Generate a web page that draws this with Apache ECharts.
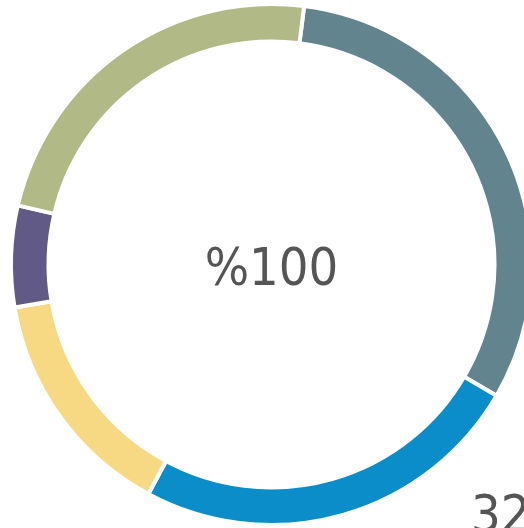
<!DOCTYPE html>
<html>
<head>
<meta charset="utf-8">
<script src="https://cdn.jsdelivr.net/npm/echarts@6/dist/echarts.min.js"></script>
<style>
  html, body { margin: 0; padding: 0; background: #fff; }
  #chart { width: 524px; height: 528px; }
</style>
</head>
<body>
<div id="chart"></div>
<script>
var names = ['A', 'B', 'C', 'D', 'E'];
var values = [32, 24.9, 14.8, 6.4, 23.8];
var colors = ['#62848f', '#0b8dca', '#f7d984', '#625a86', '#b1b986'];
var centerLabel = '%100';

var pieData = [];
for (var i = 0; i < names.length; i++) {
    pieData.push({name: names[i], value: values[i], itemStyle: {color: colors[i]}});
}

var dom = document.getElementById("chart");
var myChart = echarts.init(dom);
var option = {
    animation: false,
    title: [
        {
            text: centerLabel,
            left: 271.5,
            top: 271,
            textAlign: 'center',
            textVerticalAlign: 'middle',
            padding: 0,
            textStyle: {
                fontFamily: 'DejaVu Sans Condensed',
                fontWeight: 'normal',
                fontSize: 52,
                color: '#555555'
            }
        },
        {
            // value label of the first slice, mostly outside the frame
            text: String(values[0]),
            left: 471,
            top: 492,
            padding: 0,
            textStyle: {
                fontFamily: 'DejaVu Sans Condensed',
                fontWeight: 'normal',
                fontSize: 52,
                color: '#555555'
            }
        }
    ],
    series: [{
        type: 'pie',
        center: [271.5, 264.5],
        radius: [223, 260.5],
        startAngle: 82.8,
        clockwise: true,
        label: {show: false},
        labelLine: {show: false},
        itemStyle: {
            borderColor: '#ffffff',
            borderWidth: 4
        },
        data: pieData
    }]
};
myChart.setOption(option, true);
</script>
</body>
</html>
